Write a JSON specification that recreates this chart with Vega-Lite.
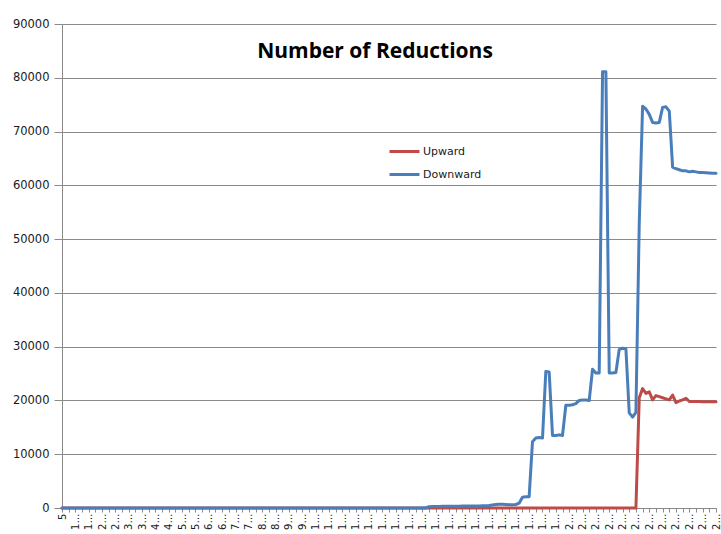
{
  "$schema": "https://vega.github.io/schema/vega-lite/v6.json",
  "autosize": {"type": "none"},
  "padding": {"left": 62, "top": 24, "right": 5, "bottom": 26},
  "width": 654,
  "height": 484,
  "background": "white",
  "config": {
    "view": {"stroke": null},
    "font": "DejaVu Sans",
    "axis": {"gridColor": "#8a8a8a", "domainColor": "#8a8a8a", "tickColor": "#8a8a8a", "labelColor": "#1a1a1a", "labelFont": "DejaVu Sans"}
  },
  "title": {"text": "Number of Reductions", "font": "Open Sans", "fontWeight": "bold", "fontSize": 21, "color": "#000000", "anchor": "middle", "dx": -14, "dy": 28, "offset": -33, "baseline": "alphabetic"},
  "data": {"values": [
{"i":0,"Upward":0,"Downward":0},{"i":1,"Upward":0,"Downward":0},{"i":2,"Upward":0,"Downward":0},{"i":3,"Upward":0,"Downward":0},{"i":4,"Upward":0,"Downward":0},{"i":5,"Upward":0,"Downward":0},{"i":6,"Upward":0,"Downward":0},{"i":7,"Upward":0,"Downward":0},{"i":8,"Upward":0,"Downward":0},{"i":9,"Upward":0,"Downward":0},
{"i":10,"Upward":0,"Downward":0},{"i":11,"Upward":0,"Downward":0},{"i":12,"Upward":0,"Downward":0},{"i":13,"Upward":0,"Downward":0},{"i":14,"Upward":0,"Downward":0},{"i":15,"Upward":0,"Downward":0},{"i":16,"Upward":0,"Downward":0},{"i":17,"Upward":0,"Downward":0},{"i":18,"Upward":0,"Downward":0},{"i":19,"Upward":0,"Downward":0},
{"i":20,"Upward":0,"Downward":0},{"i":21,"Upward":0,"Downward":0},{"i":22,"Upward":0,"Downward":0},{"i":23,"Upward":0,"Downward":0},{"i":24,"Upward":0,"Downward":0},{"i":25,"Upward":0,"Downward":0},{"i":26,"Upward":0,"Downward":0},{"i":27,"Upward":0,"Downward":0},{"i":28,"Upward":0,"Downward":0},{"i":29,"Upward":0,"Downward":0},
{"i":30,"Upward":0,"Downward":0},{"i":31,"Upward":0,"Downward":0},{"i":32,"Upward":0,"Downward":0},{"i":33,"Upward":0,"Downward":0},{"i":34,"Upward":0,"Downward":0},{"i":35,"Upward":0,"Downward":0},{"i":36,"Upward":0,"Downward":0},{"i":37,"Upward":0,"Downward":0},{"i":38,"Upward":0,"Downward":0},{"i":39,"Upward":0,"Downward":0},
{"i":40,"Upward":0,"Downward":0},{"i":41,"Upward":0,"Downward":0},{"i":42,"Upward":0,"Downward":0},{"i":43,"Upward":0,"Downward":0},{"i":44,"Upward":0,"Downward":0},{"i":45,"Upward":0,"Downward":0},{"i":46,"Upward":0,"Downward":0},{"i":47,"Upward":0,"Downward":0},{"i":48,"Upward":0,"Downward":0},{"i":49,"Upward":0,"Downward":0},
{"i":50,"Upward":0,"Downward":0},{"i":51,"Upward":0,"Downward":0},{"i":52,"Upward":0,"Downward":0},{"i":53,"Upward":0,"Downward":0},{"i":54,"Upward":0,"Downward":0},{"i":55,"Upward":0,"Downward":0},{"i":56,"Upward":0,"Downward":0},{"i":57,"Upward":0,"Downward":0},{"i":58,"Upward":0,"Downward":0},{"i":59,"Upward":0,"Downward":0},
{"i":60,"Upward":0,"Downward":0},{"i":61,"Upward":0,"Downward":0},{"i":62,"Upward":0,"Downward":0},{"i":63,"Upward":0,"Downward":0},{"i":64,"Upward":0,"Downward":0},{"i":65,"Upward":0,"Downward":0},{"i":66,"Upward":0,"Downward":0},{"i":67,"Upward":0,"Downward":0},{"i":68,"Upward":0,"Downward":0},{"i":69,"Upward":0,"Downward":0},
{"i":70,"Upward":0,"Downward":0},{"i":71,"Upward":0,"Downward":0},{"i":72,"Upward":0,"Downward":0},{"i":73,"Upward":0,"Downward":0},{"i":74,"Upward":0,"Downward":0},{"i":75,"Upward":0,"Downward":0},{"i":76,"Upward":0,"Downward":0},{"i":77,"Upward":0,"Downward":0},{"i":78,"Upward":0,"Downward":0},{"i":79,"Upward":0,"Downward":0},
{"i":80,"Upward":0,"Downward":0},{"i":81,"Upward":0,"Downward":0},{"i":82,"Upward":0,"Downward":0},{"i":83,"Upward":0,"Downward":0},{"i":84,"Upward":0,"Downward":0},{"i":85,"Upward":0,"Downward":0},{"i":86,"Upward":0,"Downward":0},{"i":87,"Upward":0,"Downward":0},{"i":88,"Upward":0,"Downward":0},{"i":89,"Upward":0,"Downward":0},
{"i":90,"Upward":0,"Downward":0},{"i":91,"Upward":0,"Downward":0},{"i":92,"Upward":0,"Downward":0},{"i":93,"Upward":0,"Downward":0},{"i":94,"Upward":0,"Downward":0},{"i":95,"Upward":0,"Downward":0},{"i":96,"Upward":0,"Downward":0},{"i":97,"Upward":0,"Downward":0},{"i":98,"Upward":0,"Downward":0},{"i":99,"Upward":0,"Downward":0},
{"i":100,"Upward":0,"Downward":0},{"i":101,"Upward":0,"Downward":0},{"i":102,"Upward":0,"Downward":0},{"i":103,"Upward":0,"Downward":0},{"i":104,"Upward":0,"Downward":0},{"i":105,"Upward":0,"Downward":0},{"i":106,"Upward":0,"Downward":0},{"i":107,"Upward":0,"Downward":0},{"i":108,"Upward":0,"Downward":0},{"i":109,"Upward":0,"Downward":0},
{"i":110,"Upward":0,"Downward":250},{"i":111,"Upward":0,"Downward":300},{"i":112,"Upward":0,"Downward":300},{"i":113,"Upward":0,"Downward":300},{"i":114,"Upward":0,"Downward":320},{"i":115,"Upward":0,"Downward":320},{"i":116,"Upward":0,"Downward":330},{"i":117,"Upward":0,"Downward":330},{"i":118,"Upward":0,"Downward":340},{"i":119,"Upward":0,"Downward":340},
{"i":120,"Upward":0,"Downward":350},{"i":121,"Upward":0,"Downward":350},{"i":122,"Upward":0,"Downward":360},{"i":123,"Upward":0,"Downward":360},{"i":124,"Upward":0,"Downward":370},{"i":125,"Upward":0,"Downward":380},{"i":126,"Upward":0,"Downward":400},{"i":127,"Upward":0,"Downward":420},{"i":128,"Upward":0,"Downward":450},{"i":129,"Upward":0,"Downward":550},
{"i":130,"Upward":0,"Downward":650},{"i":131,"Upward":0,"Downward":700},{"i":132,"Upward":0,"Downward":700},{"i":133,"Upward":0,"Downward":650},{"i":134,"Upward":0,"Downward":600},{"i":135,"Upward":0,"Downward":600},{"i":136,"Upward":0,"Downward":650},{"i":137,"Upward":0,"Downward":900},{"i":138,"Upward":0,"Downward":2000},{"i":139,"Upward":0,"Downward":2100},
{"i":140,"Upward":0,"Downward":2100},{"i":141,"Upward":0,"Downward":12300},{"i":142,"Upward":0,"Downward":13000},{"i":143,"Upward":0,"Downward":13100},{"i":144,"Upward":0,"Downward":13000},{"i":145,"Upward":0,"Downward":25400},{"i":146,"Upward":0,"Downward":25300},{"i":147,"Upward":0,"Downward":13500},{"i":148,"Upward":0,"Downward":13500},{"i":149,"Upward":0,"Downward":13600},
{"i":150,"Upward":0,"Downward":13500},{"i":151,"Upward":0,"Downward":19100},{"i":152,"Upward":0,"Downward":19100},{"i":153,"Upward":0,"Downward":19200},{"i":154,"Upward":0,"Downward":19400},{"i":155,"Upward":0,"Downward":20000},{"i":156,"Upward":0,"Downward":20100},{"i":157,"Upward":0,"Downward":20100},{"i":158,"Upward":0,"Downward":20000},{"i":159,"Upward":0,"Downward":25800},
{"i":160,"Upward":0,"Downward":25100},{"i":161,"Upward":0,"Downward":25100},{"i":162,"Upward":0,"Downward":81100},{"i":163,"Upward":0,"Downward":81100},{"i":164,"Upward":0,"Downward":25100},{"i":165,"Upward":0,"Downward":25100},{"i":166,"Upward":0,"Downward":25200},{"i":167,"Upward":0,"Downward":29500},{"i":168,"Upward":0,"Downward":29700},{"i":169,"Upward":0,"Downward":29600},
{"i":170,"Upward":0,"Downward":17700},{"i":171,"Upward":0,"Downward":16900},{"i":172,"Upward":0,"Downward":17800},{"i":173,"Upward":20500,"Downward":53000},{"i":174,"Upward":22200,"Downward":74700},{"i":175,"Upward":21300,"Downward":74200},{"i":176,"Upward":21600,"Downward":73200},{"i":177,"Upward":20100,"Downward":71700},{"i":178,"Upward":20900,"Downward":71600},{"i":179,"Upward":20700,"Downward":71700},
{"i":180,"Upward":20500,"Downward":74500},{"i":181,"Upward":20300,"Downward":74600},{"i":182,"Upward":20100,"Downward":73800},{"i":183,"Upward":21000,"Downward":63400},{"i":184,"Upward":19600,"Downward":63100},{"i":185,"Upward":19900,"Downward":62900},{"i":186,"Upward":20100,"Downward":62700},{"i":187,"Upward":20400,"Downward":62700},{"i":188,"Upward":19800,"Downward":62500},{"i":189,"Upward":19800,"Downward":62600},
{"i":190,"Upward":19800,"Downward":62500},{"i":191,"Upward":19800,"Downward":62400},{"i":192,"Upward":19750,"Downward":62400},{"i":193,"Upward":19750,"Downward":62350},{"i":194,"Upward":19750,"Downward":62300},{"i":195,"Upward":19750,"Downward":62250},{"i":196,"Upward":19750,"Downward":62250}
  ]},
  "encoding": {
    "x": {
      "field": "i", "type": "quantitative",
      "scale": {"domain": [0, 196], "nice": false, "zero": false},
      "axis": {
        "title": null, "grid": false,
        "values": [0,2,4,6,8,10,12,14,16,18,20,22,24,26,28,30,32,34,36,38,40,42,44,46,48,50,52,54,56,58,60,62,64,66,68,70,72,74,76,78,80,82,84,86,88,90,92,94,96,98,100,102,104,106,108,110,112,114,116,118,120,122,124,126,128,130,132,134,136,138,140,142,144,146,148,150,152,154,156,158,160,162,164,166,168,170,172,174,176,178,180,182,184,186,188,190,192,194,196],
        "labelExpr": "datum.value % 4 != 0 ? '' : datum.value == 0 ? '5' : datum.value <= 72 ? floor((datum.value / 4 + 1) / 2) + '…' : datum.value <= 148 ? '1…' : '2…'",
        "labelAngle": -90, "labelFontSize": 10, "labelOverlap": false, "labelFlush": false, "labelBound": false,
        "tickSize": 4, "labelPadding": 1
      }
    },
    "color": {
      "scale": {"domain": ["Upward", "Downward"], "range": ["#BE4B48", "#4A7EBB"]},
      "legend": {"orient": "none", "legendX": 326, "legendY": 111, "title": null, "symbolType": "stroke", "symbolSize": 900, "symbolStrokeWidth": 3, "labelFontSize": 11, "labelFont": "DejaVu Sans", "labelColor": "#1a1a1a", "rowPadding": -5, "labelOffset": 2, "padding": 0}
    }
  },
  "layer": [
    {
      "mark": {"type": "line", "strokeWidth": 3, "strokeJoin": "round", "strokeCap": "round"},
      "encoding": {
        "y": {"field": "Upward", "type": "quantitative", "scale": {"domain": [0, 90000], "nice": false},
          "axis": {"title": null, "values": [0,10000,20000,30000,40000,50000,60000,70000,80000,90000], "format": "d", "labelFontSize": 11.5, "tickSize": 8, "labelPadding": 5, "grid": true}},
        "color": {"datum": "Upward"}
      }
    },
    {
      "mark": {"type": "line", "strokeWidth": 3, "strokeJoin": "round", "strokeCap": "round"},
      "encoding": {
        "y": {"field": "Downward", "type": "quantitative"},
        "color": {"datum": "Downward"}
      }
    }
  ]
}
